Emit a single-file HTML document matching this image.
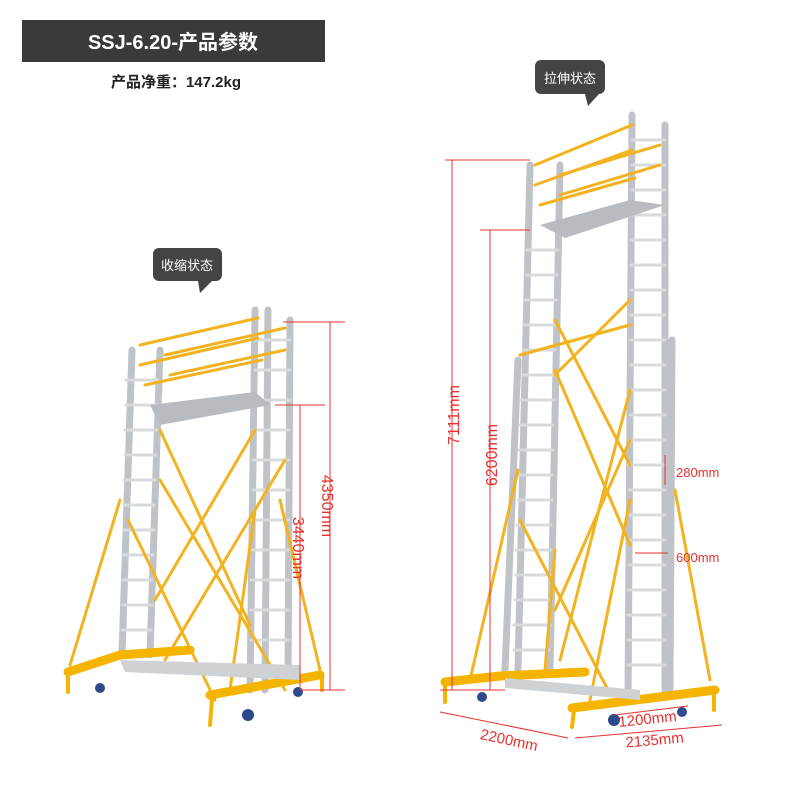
<!DOCTYPE html>
<html><head><meta charset="utf-8"><style>
body{margin:0;background:#fff;width:800px;height:800px;overflow:hidden;font-family:"Liberation Sans","Noto Sans CJK SC",sans-serif}
svg{display:block}
</style></head><body>
<svg width="800" height="800" viewBox="0 0 800 800" xmlns="http://www.w3.org/2000/svg" font-family="Liberation Sans, Noto Sans CJK SC, sans-serif">
<rect x="22" y="20" width="303" height="42" fill="#3a3a3a"/>
<text x="173" y="49" fill="#fff" font-size="20" font-weight="bold" text-anchor="middle">SSJ-6.20-产品参数</text>
<text x="176" y="87" fill="#222" font-size="15" font-weight="bold" text-anchor="middle">产品净重：147.2kg</text>
<rect x="153" y="248" width="69" height="33" rx="6" fill="#444"/><path d="M198 281 L212 281 L200 293Z" fill="#444"/>
<text x="187" y="270" fill="#fff" font-size="13" text-anchor="middle">收缩状态</text>
<rect x="535" y="60" width="70" height="34" rx="6" fill="#444"/><path d="M585 94 L599 94 L588 106Z" fill="#444"/>
<text x="570" y="83" fill="#fff" font-size="13" text-anchor="middle">拉伸状态</text>

<g stroke-linecap="round">
<g stroke="#bfc3c7" stroke-width="7" fill="none">
<line x1="132" y1="350" x2="122" y2="655"/><line x1="160" y1="350" x2="150" y2="655"/>
<line x1="255" y1="310" x2="250" y2="690"/><line x1="290" y1="320" x2="288" y2="680"/>
<line x1="268" y1="310" x2="265" y2="690"/>
</g>
<g stroke="#d8dbde" stroke-width="3">
<path d="M126 380H158M126 405H157M125 430H157M125 455H156M124 480H155M124 505H154M124 530H154M123 555H153M123 580H152M123 605H152M122 630H151"/>
<path d="M255 340H290M255 370H290M254 400H290M254 430H289M253 460H289M253 490H289M252 520H289M252 550H289M251 580H289M251 610H288M251 640H288M250 670H288"/>
</g>
<polygon points="150,405 255,392 270,405 160,425" fill="#b8bcc0"/>
<g stroke="#f2b321" stroke-width="3">
<line x1="140" y1="345" x2="258" y2="318"/><line x1="140" y1="365" x2="258" y2="338"/><line x1="145" y1="385" x2="262" y2="360"/>
<line x1="165" y1="355" x2="285" y2="328"/><line x1="170" y1="375" x2="285" y2="350"/>
<line x1="160" y1="430" x2="250" y2="625"/><line x1="155" y1="600" x2="255" y2="430"/>
<line x1="160" y1="480" x2="285" y2="690"/><line x1="165" y1="660" x2="285" y2="460"/>
<line x1="120" y1="500" x2="70" y2="665"/><line x1="128" y1="520" x2="215" y2="700"/>
<line x1="280" y1="500" x2="320" y2="670"/><line x1="255" y1="510" x2="230" y2="690"/>
</g>
<g stroke="#f4b400" stroke-width="9">
<line x1="68" y1="672" x2="120" y2="655"/><line x1="120" y1="655" x2="190" y2="650"/>
<line x1="210" y1="695" x2="320" y2="675"/>
</g>
<polygon points="120,660 300,665 300,680 125,672" fill="#cfd2d5"/>
<g stroke="#f4b400" stroke-width="4"><line x1="68" y1="672" x2="68" y2="692"/><line x1="212" y1="698" x2="210" y2="725"/><line x1="322" y1="676" x2="322" y2="690"/></g>
<circle cx="100" cy="688" r="5" fill="#2d4a8a"/><circle cx="248" cy="715" r="6" fill="#2d4a8a"/><circle cx="298" cy="692" r="5" fill="#2d4a8a"/>

<g stroke="#bfc3c7" stroke-width="7" fill="none">
<line x1="530" y1="165" x2="518" y2="670"/><line x1="560" y1="165" x2="550" y2="670"/>
<line x1="632" y1="115" x2="628" y2="700"/><line x1="665" y1="125" x2="665" y2="690"/>
<line x1="518" y1="360" x2="505" y2="670"/><line x1="672" y1="340" x2="670" y2="690"/>
</g>
<g stroke="#d8dbde" stroke-width="3">
<path d="M527 250H558M526 275H557M525 300H557M524 325H556M523 350H555M522 375H555M521 400H554M520 425H553M519 450H553M519 475H552M518 500H552M517 525H551M516 550H551M516 575H550M515 600H550M514 625H550M514 650H549"/>
<path d="M632 140H665M632 165H665M632 190H665M631 215H665M631 240H665M631 265H665M631 290H665M630 315H665M630 340H665M630 365H665M630 390H665M630 415H665M629 440H665M629 465H665M629 490H665M629 515H665M629 540H665M629 565H665M628 590H665M628 615H665M628 640H665M628 665H665"/>
</g>
<polygon points="540,225 630,200 665,205 565,238" fill="#b8bcc0"/>
<g stroke="#f2b321" stroke-width="3">
<line x1="535" y1="165" x2="632" y2="125"/><line x1="535" y1="185" x2="632" y2="150"/><line x1="540" y1="205" x2="635" y2="178"/>
<line x1="560" y1="175" x2="660" y2="145"/><line x1="560" y1="195" x2="660" y2="165"/>
<line x1="555" y1="375" x2="630" y2="300"/><line x1="520" y1="355" x2="630" y2="325"/>
<line x1="555" y1="370" x2="630" y2="545"/><line x1="555" y1="610" x2="630" y2="440"/>
<line x1="555" y1="320" x2="630" y2="465"/><line x1="560" y1="660" x2="630" y2="390"/>
<line x1="518" y1="470" x2="470" y2="680"/><line x1="520" y1="520" x2="608" y2="690"/>
<line x1="675" y1="490" x2="710" y2="680"/><line x1="630" y1="500" x2="590" y2="700"/>
<line x1="555" y1="550" x2="545" y2="670"/>
</g>
<g stroke="#f4b400" stroke-width="9">
<line x1="445" y1="682" x2="500" y2="676"/><line x1="500" y1="676" x2="585" y2="672"/>
<line x1="572" y1="708" x2="715" y2="690"/>
</g>
<polygon points="505,678 640,690 640,700 505,688" fill="#cfd2d5"/>
<g stroke="#f4b400" stroke-width="4"><line x1="445" y1="682" x2="445" y2="702"/><line x1="574" y1="710" x2="572" y2="727"/><line x1="714" y1="690" x2="714" y2="710"/></g>
<circle cx="482" cy="697" r="5" fill="#2d4a8a"/><circle cx="614" cy="720" r="6" fill="#2d4a8a"/><circle cx="682" cy="712" r="5" fill="#2d4a8a"/>
</g>

<g stroke="#e83030" stroke-width="1" fill="none">
<line x1="283" y1="322" x2="345" y2="322"/><line x1="330" y1="322" x2="330" y2="690"/><line x1="300" y1="690" x2="345" y2="690"/>
<line x1="275" y1="405" x2="325" y2="405"/><line x1="300" y1="405" x2="300" y2="690"/>
<line x1="445" y1="160" x2="530" y2="160"/><line x1="452" y1="160" x2="452" y2="690"/><line x1="440" y1="690" x2="505" y2="690"/>
<line x1="480" y1="230" x2="530" y2="230"/><line x1="490" y1="230" x2="490" y2="690"/>
<line x1="665" y1="455" x2="665" y2="485"/><line x1="635" y1="553" x2="668" y2="553"/>
<line x1="440" y1="712" x2="568" y2="738"/><line x1="575" y1="738" x2="722" y2="725"/>
<line x1="615" y1="715" x2="688" y2="706"/>
</g>
<g fill="#e83030" font-size="16">
<text transform="translate(322,506) rotate(90)" text-anchor="middle">4350mm</text>
<text transform="translate(293,548) rotate(90)" text-anchor="middle">3440mm</text>
<text transform="translate(459,415) rotate(-90)" text-anchor="middle">7111mm</text>
<text transform="translate(497,455) rotate(-90)" text-anchor="middle">6200mm</text>
<text transform="translate(508,745) rotate(12)" text-anchor="middle" font-size="15">2200mm</text>
<text transform="translate(655,745) rotate(-5)" text-anchor="middle" font-size="15">2135mm</text>
<text transform="translate(648,724) rotate(-6)" text-anchor="middle" font-size="15">1200mm</text>
<text x="676" y="477" font-size="13">280mm</text>
<text x="676" y="562" font-size="13">600mm</text>
</g>
</svg>
</body></html>
